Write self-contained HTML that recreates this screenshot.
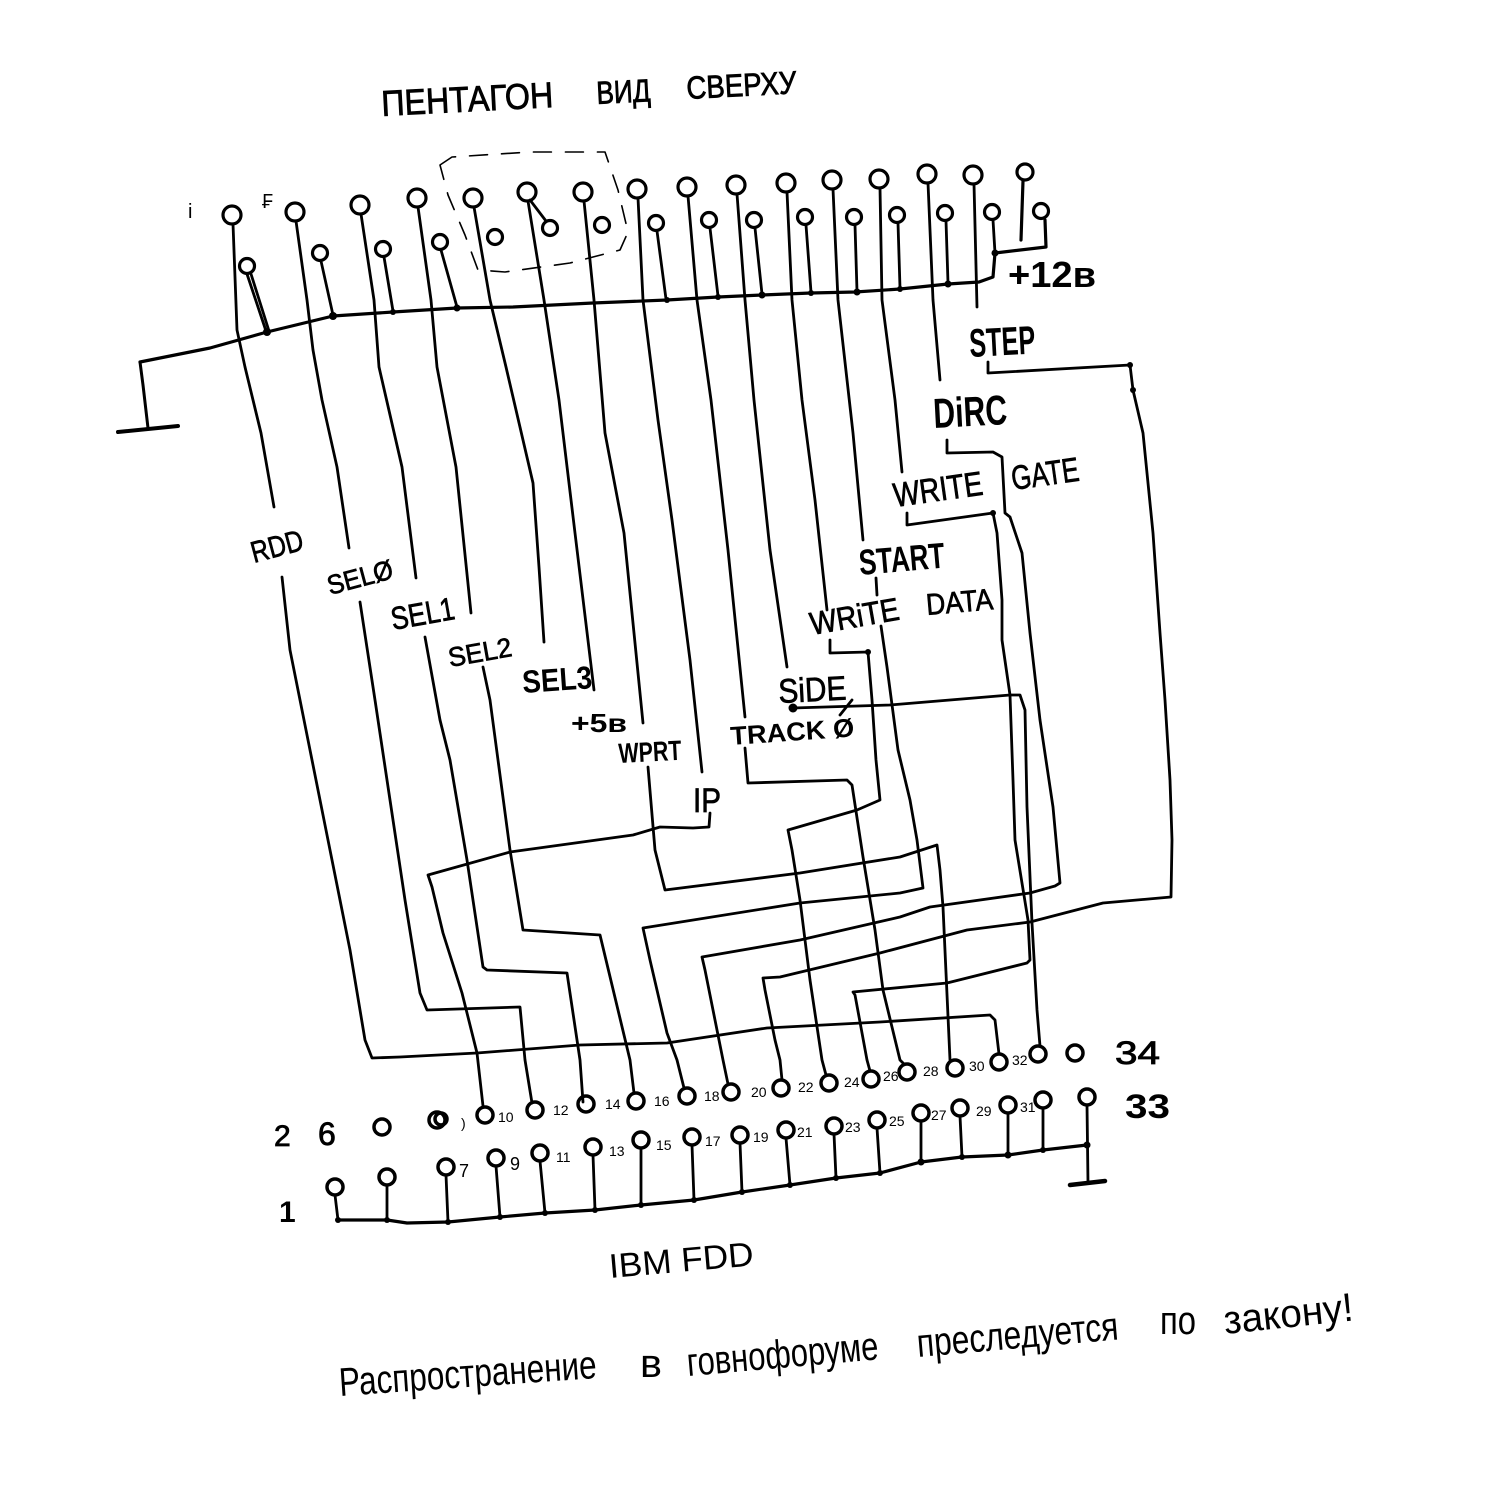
<!DOCTYPE html>
<html><head><meta charset="utf-8"><style>
html,body{margin:0;padding:0;background:#fff;}
svg{display:block;}
text{font-family:"Liberation Sans","DejaVu Sans",sans-serif;fill:#000;}
</style></head><body>
<svg width="1491" height="1500" viewBox="0 0 1491 1500" xmlns="http://www.w3.org/2000/svg">
<rect width="1491" height="1500" fill="#fff"/>
<g fill="none" stroke="#000" stroke-width="2.8" stroke-linejoin="round" stroke-linecap="round">
<!-- dashed box -->
<path d="M440,165 L452,157 L530,152 L605,152 L618,190 L628,232 L620,250 L570,263 L505,272 L478,270 L465,235 L448,195 Z" stroke-width="1.6" stroke-dasharray="18 14"/>
<!-- top upper circles -->
<g stroke-width="3.2">
<circle cx="232" cy="215" r="9"/><circle cx="295" cy="212" r="9"/><circle cx="360" cy="205" r="9"/><circle cx="417" cy="198" r="9"/><circle cx="473" cy="198" r="9"/><circle cx="527" cy="192" r="9"/><circle cx="583" cy="192" r="9"/><circle cx="637" cy="189" r="9"/><circle cx="687" cy="187" r="9"/><circle cx="736" cy="185" r="9"/><circle cx="786" cy="183" r="9"/><circle cx="832" cy="180" r="9"/><circle cx="879" cy="179" r="9"/><circle cx="927" cy="174" r="9"/><circle cx="973" cy="175" r="9"/><circle cx="1025" cy="172" r="8"/>
<!-- top lower circles -->
<circle cx="247" cy="266" r="7.5"/><circle cx="320" cy="253" r="7.5"/><circle cx="383" cy="249" r="7.5"/><circle cx="440" cy="242" r="7.5"/><circle cx="495" cy="237" r="7.5"/><circle cx="550" cy="228" r="7.5"/><circle cx="602" cy="225" r="7.5"/><circle cx="656" cy="223" r="7.5"/><circle cx="709" cy="220" r="7.5"/><circle cx="754" cy="220" r="7.5"/><circle cx="805" cy="217" r="7.5"/><circle cx="854" cy="217" r="7.5"/><circle cx="897" cy="215" r="7.5"/><circle cx="945" cy="213" r="7.5"/><circle cx="992" cy="212" r="7.5"/><circle cx="1041" cy="211" r="7.5"/>
</g>
<!-- lower stems to bus -->
<path d="M247,274 L266,331 M251,274 L269,331"/>
<path d="M321,261 L333,315"/>
<path d="M384,257 L393,311"/>
<path d="M441,250 L457,307"/>
<path d="M530,200 L546,221"/>
<path d="M657,231 L666,299"/>
<path d="M710,228 L718,296"/>
<path d="M755,228 L762,294"/>
<path d="M806,225 L811,292"/>
<path d="M855,225 L857,291"/>
<path d="M898,223 L900,288"/>
<path d="M946,221 L948,283"/>
<path d="M993,220 L995,253"/>
<!-- ground bus top -->
<path d="M140,362 L210,348 L267,332 L333,316 L393,312 L457,308 L513,307 L593,303 L667,300 L718,297 L762,295 L811,293 L855,292 L900,289 L948,284 L979,282 L993,277 L995,253 L1046,247 L1045,220" stroke-width="3.2"/>
<path d="M140,362 L143,385 L148,428" stroke-width="3"/>
<path d="M118,432 L178,426" stroke-width="4"/>
<!-- upper pin wires -->
<path d="M233,224 L237,330 L245,367 L261,433 L274,507"/>
<path d="M296,221 L307,300 L313,350 L322,400 L337,467 L349,548"/>
<path d="M361,214 L374,300 L379,367 L402,467 L416,578"/>
<path d="M418,207 L431,300 L437,367 L456,467 L471,613"/>
<path d="M474,207 L490,300 L506,367 L533,483 L539,567 L544,642"/>
<path d="M528,201 L544,300 L559,400 L575,533 L594,690"/>
<path d="M584,201 L594,300 L605,433 L624,533 L643,723"/>
<path d="M638,198 L643,300 L658,420 L672,520 L690,660 L702,772"/>
<path d="M688,196 L697,300 L711,400 L728,550 L745,717"/>
<path d="M737,194 L745,300 L754,400 L770,550 L787,667"/>
<path d="M787,192 L792,300 L802,400 L815,500 L827,610"/>
<path d="M833,189 L838,300 L853,433 L863,540"/>
<path d="M880,188 L882,300 L895,400 L902,472"/>
<path d="M928,183 L933,300 L940,380"/>
<path d="M974,184 L977,307"/>
<path d="M1023,181 L1021,240" stroke-width="3.2"/>
<!-- lower wires -->
<path d="M282,577 L290,650 L310,750 L330,850 L350,950 L365,1040 L372,1058 L400,1057 L477,1053 L580,1045 L667,1043 L767,1028 L880,1022 L990,1015 L995,1020 L999,1054"/>
<path d="M360,602 L375,700 L390,800 L405,900 L420,993 L427,1010 L520,1007 L525,1060 L532,1103"/>
<path d="M425,637 L440,720 L450,760 L467,860 L483,967 L487,970 L567,973 L580,1060 L583,1102"/>
<path d="M483,667 L490,700 L498,760 L510,850 L523,930 L600,935 L630,1060 L634,1093"/>
<path d="M710,813 L709,827 L693,828 L660,827 L633,835 L510,852 L428,875 L432,887 L443,933 L462,993 L477,1053 L483,1106"/>
<path d="M648,767 L655,850 L665,890 L800,873 L900,857 L937,845 L940,870 L943,907 L950,1060"/>
<path d="M745,748 L748,783 L847,780 L852,785 L863,857 L875,930 L883,990 L900,1060 L904,1064"/>
<path d="M830,640 L830,653 L868,652 L872,700 L876,760 L880,800 L857,810 L788,830 L792,850 L800,900 L810,980 L822,1060 L826,1075"/>
<path d="M876,578 L877,595"/>
<path d="M881,626 L887,667 L898,750 L910,800 L917,840 L923,888 L900,893 L800,903 L643,928 L650,960 L667,1033 L677,1060 L684,1088"/>
<path d="M907,513 L907,525 L993,513 L997,533 L1002,600 L1002,640 L1010,695 L1013,780 L1015,840 L1028,920 L1030,960 L1027,963 L947,983 L853,992 L855,995 L867,1060 L870,1071"/>
<path d="M947,440 L947,453 L993,452 L1002,457 L1005,513 L1010,517 L1022,553 L1030,633 L1040,720 L1053,807 L1060,883 L1055,886 L1030,893 L930,907 L900,917 L800,940 L702,957 L705,970 L715,1020 L723,1060 L728,1084"/>
<path d="M793,708 L890,705 L1010,695 L1020,695 L1025,710 L1027,807 L1032,923 L1037,1010 L1040,1046"/>
<path d="M988,362 L988,373 L1130,365 L1133,390 L1143,433 L1153,533 L1160,633 L1165,700 L1170,780 L1172,840 L1171,897 L1103,903 L1030,922 L967,930 L880,953 L780,977 L763,978 L765,990 L775,1040 L780,1060 L782,1080"/>
<path d="M840,715 L852,700"/>
<!-- IBM connector even row -->
<g stroke-width="3.5">
<circle cx="382" cy="1127" r="8"/>
<circle cx="437" cy="1120" r="8"/><circle cx="441" cy="1119" r="6"/>
<circle cx="485" cy="1115" r="8"/><circle cx="535" cy="1110" r="8"/><circle cx="586" cy="1104" r="8"/><circle cx="636" cy="1101" r="8"/><circle cx="687" cy="1096" r="8"/><circle cx="731" cy="1092" r="8"/><circle cx="781" cy="1088" r="8"/><circle cx="829" cy="1083" r="8"/><circle cx="871" cy="1079" r="8"/><circle cx="907" cy="1072" r="8"/><circle cx="955" cy="1068" r="8"/><circle cx="999" cy="1062" r="8"/><circle cx="1038" cy="1054" r="8"/><circle cx="1075" cy="1053" r="8"/>
<circle cx="335" cy="1187" r="8"/><circle cx="387" cy="1177" r="8"/><circle cx="446" cy="1167" r="8"/><circle cx="496" cy="1158" r="8"/><circle cx="540" cy="1153" r="8"/><circle cx="593" cy="1147" r="8"/><circle cx="641" cy="1140" r="8"/><circle cx="692" cy="1137" r="8"/><circle cx="740" cy="1135" r="8"/><circle cx="786" cy="1130" r="8"/><circle cx="834" cy="1126" r="8"/><circle cx="877" cy="1120" r="8"/><circle cx="921" cy="1113" r="8"/><circle cx="960" cy="1108" r="8"/><circle cx="1008" cy="1105" r="8"/><circle cx="1043" cy="1100" r="8"/><circle cx="1087" cy="1097" r="8"/>
</g>
<path d="M335,1195 L338,1220 M387,1185 L387,1220 M446,1175 L448,1222 M496,1166 L500,1217 M540,1161 L545,1213 M593,1155 L595,1210 M641,1148 L641,1205 M692,1145 L694,1200 M740,1143 L742,1192 M786,1138 L790,1185 M834,1134 L836,1178 M877,1128 L880,1173 M921,1121 L921,1162 M960,1116 L962,1157 M1008,1113 L1008,1155 M1043,1108 L1043,1150 M1087,1105 L1088,1183"/>
<path d="M338,1220 L387,1220 L407,1223 L448,1222 L500,1217 L545,1213 L595,1210 L641,1205 L694,1200 L742,1192 L790,1185 L836,1178 L880,1173 L921,1162 L962,1157 L1008,1155 L1043,1150 L1087,1145" stroke-width="3.2"/>
<path d="M1070,1185 L1105,1181" stroke-width="4.5"/>
</g>
<!-- dots -->
<g fill="#000">
<circle cx="267" cy="332" r="4"/><circle cx="333" cy="316" r="4"/><circle cx="393" cy="312" r="3"/><circle cx="457" cy="308" r="3.5"/><circle cx="667" cy="300" r="3"/><circle cx="718" cy="297" r="3"/><circle cx="762" cy="295" r="3.5"/><circle cx="811" cy="293" r="3"/><circle cx="857" cy="292" r="3.5"/><circle cx="900" cy="289" r="3"/><circle cx="948" cy="284" r="3.5"/><circle cx="995" cy="253" r="3.5"/>
<circle cx="793" cy="708" r="4.5"/><circle cx="1130" cy="365" r="3"/><circle cx="1133" cy="390" r="3"/><circle cx="868" cy="652" r="3"/><circle cx="993" cy="513" r="3"/>
<circle cx="338" cy="1220" r="3"/><circle cx="387" cy="1220" r="3"/><circle cx="448" cy="1222" r="3"/><circle cx="500" cy="1217" r="3"/><circle cx="545" cy="1213" r="3"/><circle cx="595" cy="1210" r="3"/><circle cx="641" cy="1205" r="3"/><circle cx="694" cy="1200" r="3"/><circle cx="742" cy="1192" r="3"/><circle cx="790" cy="1185" r="3"/><circle cx="836" cy="1178" r="3"/><circle cx="880" cy="1173" r="3"/><circle cx="921" cy="1162" r="3.5"/><circle cx="962" cy="1157" r="3"/><circle cx="1008" cy="1155" r="3.5"/><circle cx="1043" cy="1150" r="3"/><circle cx="1087" cy="1145" r="3.5"/>
</g>
<!-- title -->
<g stroke="#000" stroke-width="0.8">
<text x="382" y="116" font-size="36" textLength="172" lengthAdjust="spacingAndGlyphs" transform="rotate(-3 382 116)">ПЕНТАГОН</text>
<text x="597" y="104" font-size="32" textLength="54" lengthAdjust="spacingAndGlyphs" transform="rotate(-3 597 104)">ВИД</text>
<text x="687" y="99" font-size="32" textLength="110" lengthAdjust="spacingAndGlyphs" transform="rotate(-3 687 99)">СВЕРХУ</text>
</g>
<text x="188" y="218" font-size="20">i</text>
<text x="262" y="208" font-size="20">₣</text>
<!-- labels -->
<text x="1008" y="287" font-size="36" font-weight="bold" textLength="88" lengthAdjust="spacingAndGlyphs">+12в</text>
<text x="970" y="357" font-size="40" font-weight="bold" textLength="66" lengthAdjust="spacingAndGlyphs" transform="rotate(-3 970 357)">STEP</text>
<text x="934" y="428" font-size="42" font-weight="bold" textLength="74" lengthAdjust="spacingAndGlyphs" transform="rotate(-3 934 428)">DiRC</text>
<g stroke="#000" stroke-width="0.7">
<text x="895" y="507" font-size="34" textLength="90" lengthAdjust="spacingAndGlyphs" transform="rotate(-8 895 507)">WRITE</text>
<text x="1013" y="490" font-size="34" textLength="68" lengthAdjust="spacingAndGlyphs" transform="rotate(-8 1013 490)">GATE</text>
<text x="812" y="635" font-size="32" textLength="90" lengthAdjust="spacingAndGlyphs" transform="rotate(-10 812 635)">WRiTE</text>
<text x="927" y="615" font-size="30" textLength="67" lengthAdjust="spacingAndGlyphs" transform="rotate(-5 927 615)">DATA</text>
<text x="779" y="703" font-size="34" textLength="68" lengthAdjust="spacingAndGlyphs" transform="rotate(-3 779 703)">SiDE</text>
<text x="254" y="563" font-size="30" textLength="53" lengthAdjust="spacingAndGlyphs" transform="rotate(-15 254 563)">RDD</text>
<text x="330" y="595" font-size="27" textLength="67" lengthAdjust="spacingAndGlyphs" transform="rotate(-15 330 595)">SELØ</text>
<text x="393" y="630" font-size="32" textLength="64" lengthAdjust="spacingAndGlyphs" transform="rotate(-10 393 630)">SEL1</text>
<text x="450" y="667" font-size="27" textLength="64" lengthAdjust="spacingAndGlyphs" transform="rotate(-10 450 667)">SEL2</text>
<text x="693" y="812" font-size="34" textLength="28" lengthAdjust="spacingAndGlyphs">IP</text>
</g>
<text x="860" y="575" font-size="36" font-weight="bold" textLength="86" lengthAdjust="spacingAndGlyphs" transform="rotate(-5 860 575)">START</text>
<text x="731" y="745" font-size="26" font-weight="bold" textLength="124" lengthAdjust="spacingAndGlyphs" transform="rotate(-4 731 745)">TRACK Ø</text>
<text x="523" y="693" font-size="32" font-weight="bold" textLength="70" lengthAdjust="spacingAndGlyphs" transform="rotate(-4 523 693)">SEL3</text>
<text x="571" y="732" font-size="26" font-weight="bold" textLength="56" lengthAdjust="spacingAndGlyphs">+5в</text>
<text x="619" y="763" font-size="28" font-weight="bold" textLength="63" lengthAdjust="spacingAndGlyphs" transform="rotate(-3 619 763)">WPRT</text>
<!-- IBM pin labels -->
<g font-size="14">
<text x="461" y="1128">)</text><text x="498" y="1122">10</text><text x="553" y="1115">12</text><text x="605" y="1109">14</text><text x="654" y="1106">16</text><text x="704" y="1101">18</text><text x="751" y="1097">20</text><text x="798" y="1092">22</text><text x="844" y="1087">24</text><text x="883" y="1081">26</text><text x="923" y="1076">28</text><text x="969" y="1071">30</text><text x="1012" y="1065">32</text>
<text x="459" y="1177" font-size="18">7</text><text x="510" y="1170" font-size="18">9</text><text x="556" y="1162">11</text><text x="609" y="1156">13</text><text x="656" y="1150">15</text><text x="705" y="1146">17</text><text x="753" y="1142">19</text><text x="797" y="1137">21</text><text x="845" y="1132">23</text><text x="889" y="1126">25</text><text x="931" y="1120">27</text><text x="976" y="1116">29</text><text x="1020" y="1112">31</text>
</g>
<text x="1115" y="1064" font-size="32" textLength="45" lengthAdjust="spacingAndGlyphs" stroke="#000" stroke-width="0.8">34</text>
<text x="1125" y="1118" font-size="34" font-weight="bold" textLength="45" lengthAdjust="spacingAndGlyphs">33</text>
<text x="274" y="1146" font-size="30" stroke="#000" stroke-width="0.8">2</text>
<text x="318" y="1145" font-size="32" stroke="#000" stroke-width="0.8">6</text>
<text x="279" y="1222" font-size="30" font-weight="bold">1</text>
<!-- IBM FDD -->
<text x="610" y="1278" font-size="34" textLength="145" lengthAdjust="spacingAndGlyphs" transform="rotate(-5 610 1278)">IBM FDD</text>
<!-- bottom sentence -->
<g font-size="40">
<text x="340" y="1396" textLength="258" lengthAdjust="spacingAndGlyphs" transform="rotate(-4 340 1396)">Распространение</text>
<text x="640" y="1377" textLength="22" lengthAdjust="spacingAndGlyphs">в</text>
<text x="688" y="1376" textLength="192" lengthAdjust="spacingAndGlyphs" transform="rotate(-5 688 1376)">говнофоруме</text>
<text x="918" y="1357" textLength="202" lengthAdjust="spacingAndGlyphs" transform="rotate(-5 918 1357)">преследуется</text>
<text x="1160" y="1334" textLength="36" lengthAdjust="spacingAndGlyphs">по</text>
<text x="1225" y="1334" textLength="130" lengthAdjust="spacingAndGlyphs" transform="rotate(-6 1225 1334)">закону!</text>
</g>
</svg>
</body></html>
